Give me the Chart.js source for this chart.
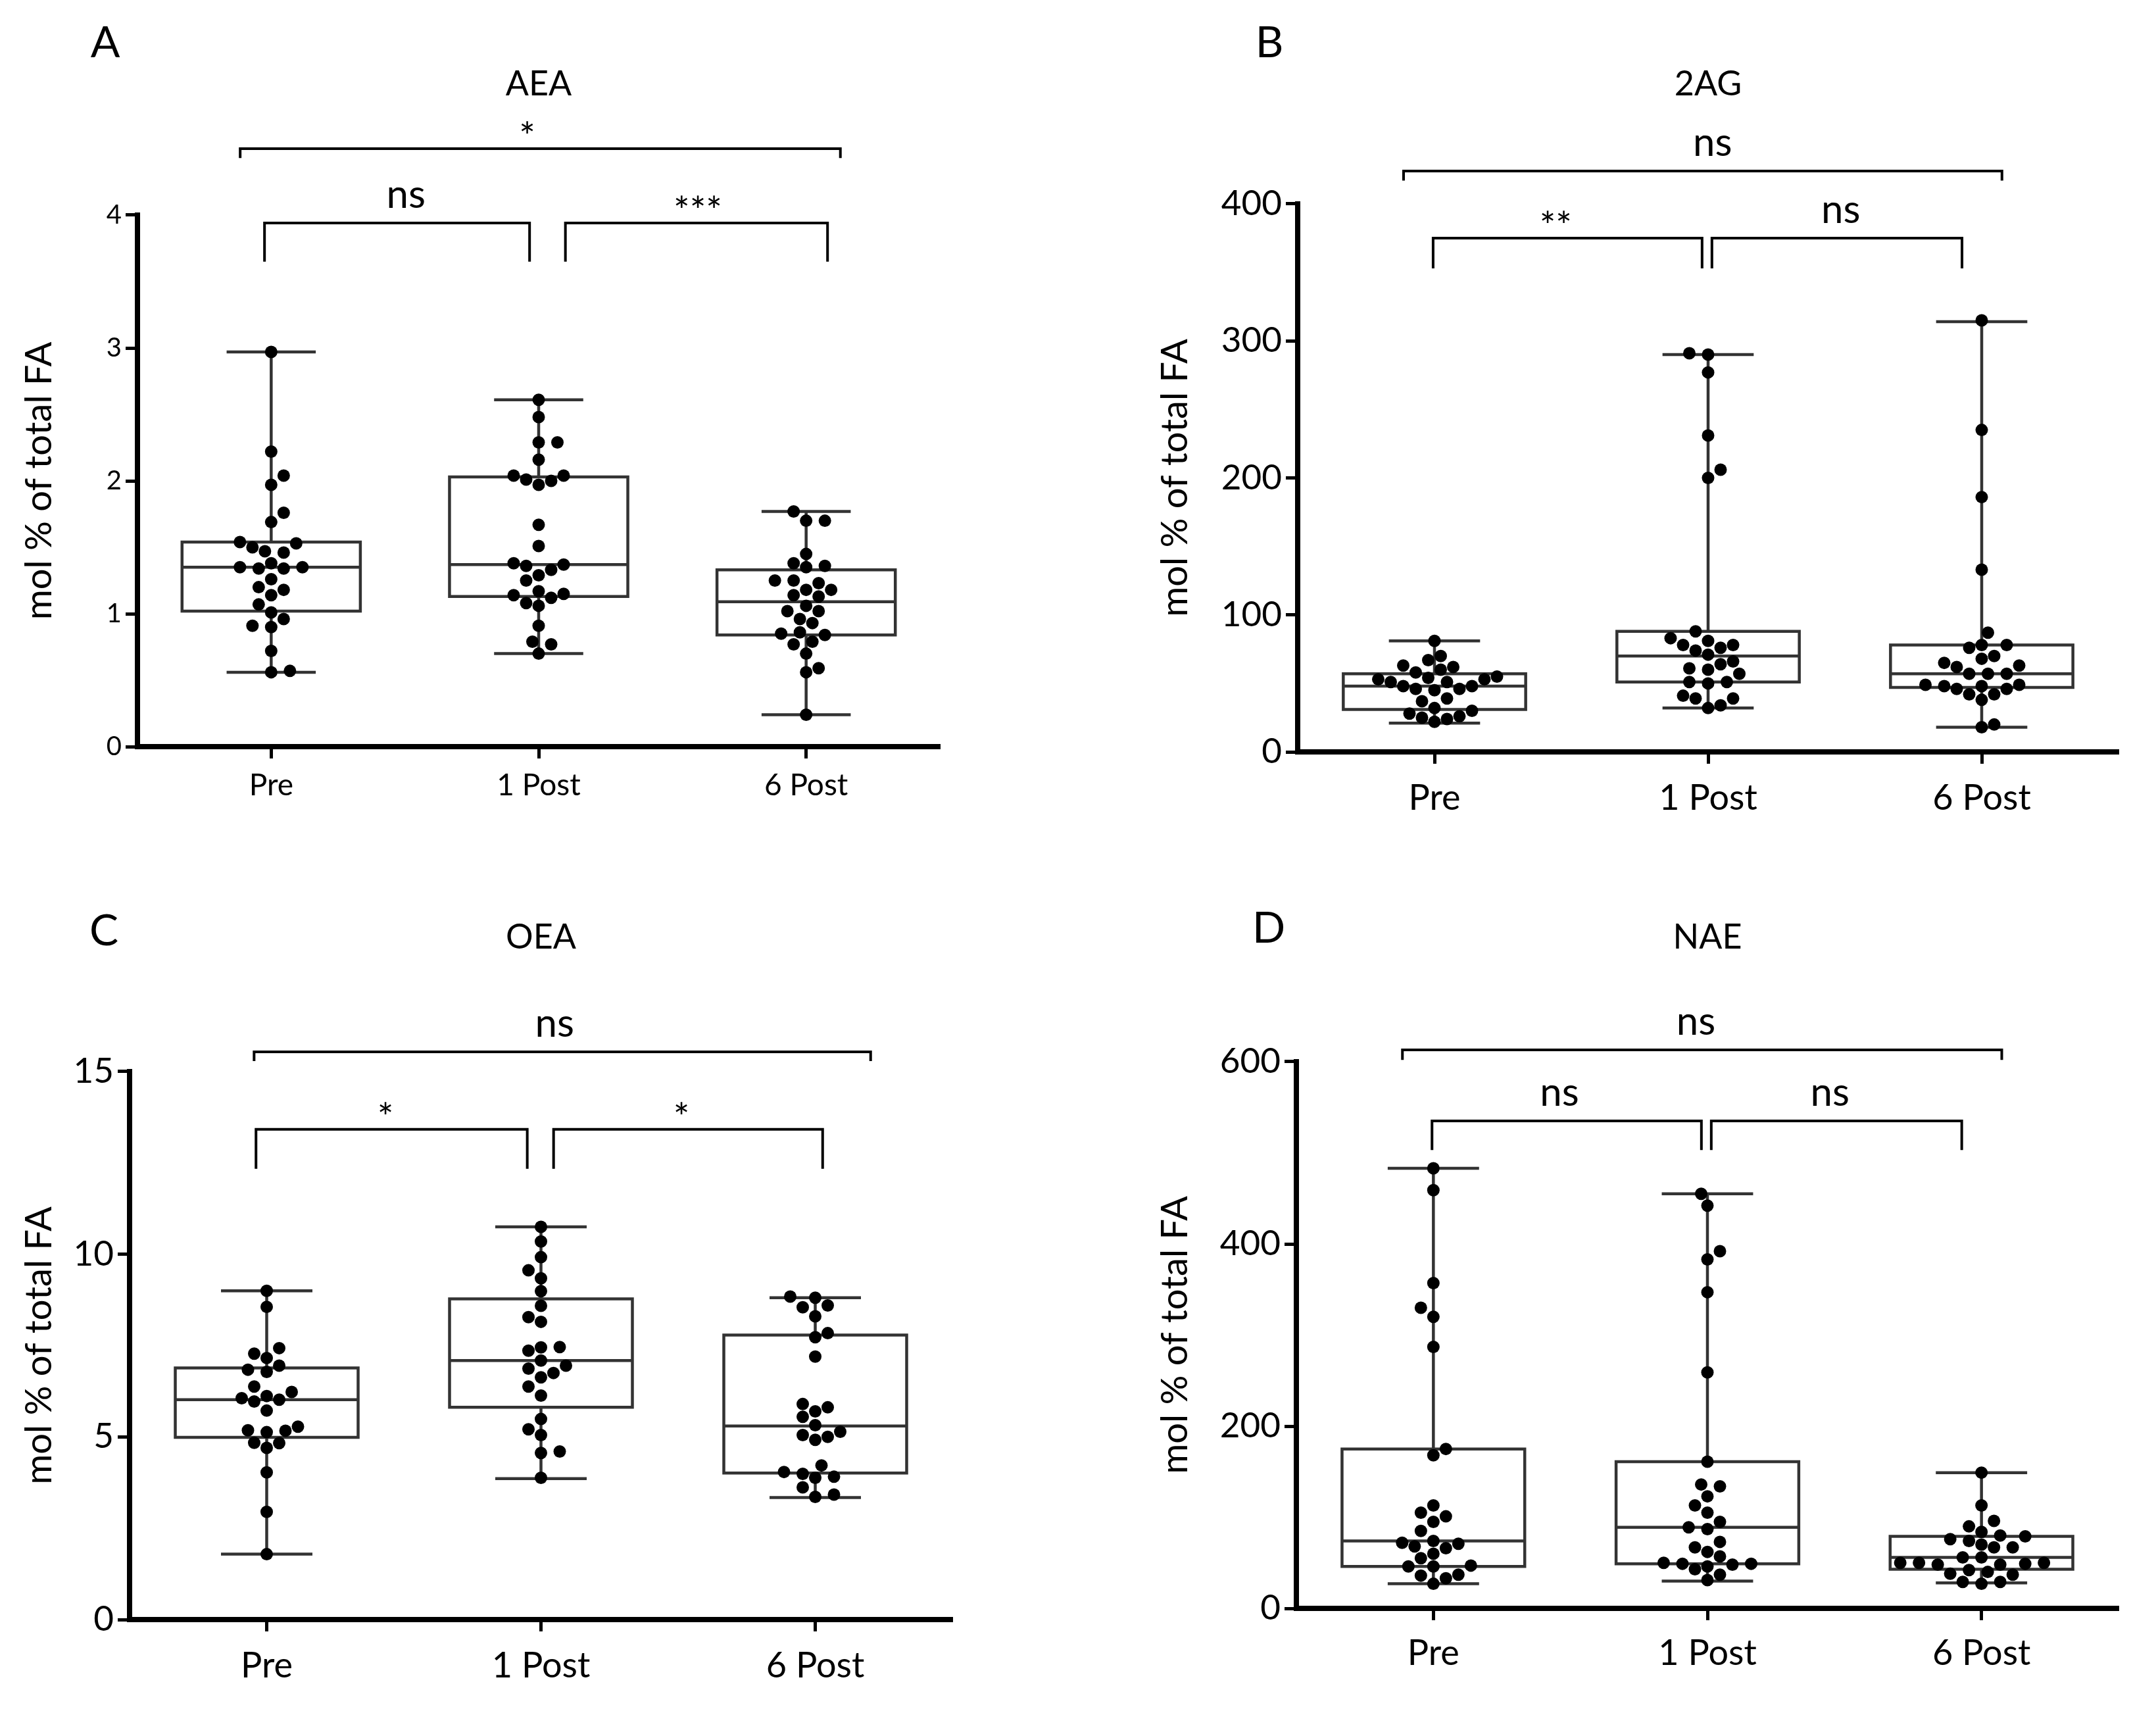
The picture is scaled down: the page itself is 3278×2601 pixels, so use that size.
<!DOCTYPE html>
<html>
<head>
<meta charset="utf-8">
<script src="https://cdn.jsdelivr.net/npm/chart.js@4.4.1/dist/chart.umd.min.js"></script>
<style>
  html, body { margin: 0; padding: 0; background: #fff; }
  body { width: 3278px; height: 2601px; position: relative; overflow: hidden; }
  canvas { position: absolute; }
</style>
</head>
<body>
<canvas id="pA"></canvas>
<canvas id="pB"></canvas>
<canvas id="pC"></canvas>
<canvas id="pD"></canvas>
<script>
// ---------------- DATA ----------------
const categories = ['Pre', '1 Post', '6 Post'];
const yAxisTitle = 'mol % of total FA';

// Panel A - AEA
const aeaPre   = [2.97, 2.22, 2.04, 1.97, 1.76, 1.69, 1.53, 1.54, 1.50, 1.47, 1.46, 1.38, 1.35, 1.34, 1.35, 1.34, 1.26, 1.20, 1.18, 1.14, 1.07, 1.01, 0.96, 0.91, 0.90, 0.72, 0.56, 0.57];
const aeaPost1 = [2.61, 2.48, 2.29, 2.29, 2.16, 2.04, 2.00, 1.97, 2.01, 2.04, 1.67, 1.51, 1.38, 1.36, 1.37, 1.33, 1.29, 1.25, 1.15, 1.12, 1.17, 1.14, 1.08, 1.06, 0.91, 0.79, 0.77, 0.70];
const aeaPost6 = [1.77, 1.70, 1.70, 1.45, 1.36, 1.35, 1.38, 1.25, 1.25, 1.23, 1.18, 1.14, 1.13, 1.18, 1.02, 1.02, 1.06, 0.96, 0.93, 0.85, 0.84, 0.86, 0.79, 0.77, 0.70, 0.59, 0.56, 0.24];
// box stats: [min, q1, median, q3, max]
const aeaBoxPre   = [0.56, 1.02, 1.35, 1.54, 2.97];
const aeaBoxPost1 = [0.70, 1.13, 1.37, 2.03, 2.61];
const aeaBoxPost6 = [0.24, 0.84, 1.09, 1.33, 1.77];
const aeaTicks = [0, 1, 2, 3, 4];

// Panel B - 2AG
const agPre   = [81, 70, 67, 62, 63, 58, 60, 55, 53, 51, 53, 54, 51, 48, 46, 45, 46, 48, 37, 39, 32, 30, 28, 25, 22, 24, 26];
const agPost1 = [291, 290, 277, 231, 206, 200, 88, 83, 81, 78, 78, 76, 74, 71, 66, 64, 61, 60, 57, 51, 51, 50, 41, 39, 39, 34, 32];
const agPost6 = [315, 235, 186, 133, 87, 78, 78, 76, 70, 68, 65, 63, 62, 57, 57, 57, 49, 48, 49, 46, 48, 46, 42, 42, 38, 18, 20];
const agBoxPre   = [21, 31, 48, 57, 81];
const agBoxPost1 = [32, 51, 70, 88, 290];
const agBoxPost6 = [18, 47, 57, 78, 314];
const agTicks = [0, 100, 200, 300, 400];

// Panel C - OEA
const oeaPre   = [9.00, 8.56, 7.43, 7.28, 7.16, 6.95, 6.84, 6.78, 6.38, 6.23, 6.12, 6.06, 5.97, 6.02, 5.72, 5.28, 5.18, 5.13, 5.17, 4.84, 4.83, 4.70, 4.03, 2.95, 1.79];
const oeaPost1 = [10.75, 10.35, 9.92, 9.56, 9.34, 8.99, 8.59, 8.28, 8.15, 7.45, 7.36, 7.46, 7.09, 6.95, 6.87, 6.75, 6.63, 6.38, 6.13, 5.49, 5.21, 5.05, 4.60, 4.56, 3.88];
const oeaPost6 = [8.81, 8.84, 8.55, 8.60, 8.30, 7.73, 7.84, 7.20, 5.90, 5.81, 5.70, 5.55, 5.32, 5.14, 5.05, 4.92, 5.00, 4.22, 4.04, 3.91, 3.88, 3.99, 3.62, 3.36, 3.42];
const oeaBoxPre   = [1.79, 4.99, 6.02, 6.89, 9.00];
const oeaBoxPost1 = [3.86, 5.81, 7.09, 8.78, 10.75];
const oeaBoxPost6 = [3.34, 4.01, 5.30, 7.79, 8.81];
const oeaTicks = [0, 5, 10, 15];

// Panel D - NAE
const naePre   = [483, 459, 357, 330, 320, 287, 175, 168, 113, 105, 101, 95, 85, 74, 72, 71, 68, 66, 60, 55, 46, 46, 47, 36, 33, 37, 27];
const naePost1 = [455, 442, 392, 383, 347, 259, 161, 134, 136, 123, 113, 105, 95, 89, 87, 73, 67, 62, 57, 49, 48, 46, 49, 50, 43, 37, 31];
const naePost6 = [149, 113, 96, 90, 84, 80, 79, 76, 74, 70, 67, 67, 56, 56, 50, 49, 48, 48, 50, 50, 42, 38, 37, 40, 29, 27, 29];
const naeBoxPre   = [27, 46, 74, 175, 483];
const naeBoxPost1 = [30, 49, 89, 161, 455];
const naeBoxPost6 = [28, 43, 56, 79, 149];
const naeTicks = [0, 200, 400, 600];

// significance comparisons: [from x, to x, bar level, leg end level, label, label x]
const aeaSig = [[-0.116, 2.128, 4.50, 4.43, '*', 0.957], [-0.025, 0.966, 3.94, 3.65, 'ns', 0.504], [1.10, 2.08, 3.94, 3.65, '***', 1.595]];
const agSig  = [[-0.113, 2.074, 424, 417, 'ns', 1.016], [-0.005, 0.978, 375, 353, '**', 0.443], [1.014, 1.928, 375, 353, 'ns', 1.485]];
const oeaSig = [[-0.046, 2.202, 15.54, 15.29, 'ns', 1.050], [-0.039, 0.950, 13.42, 12.34, '*', 0.433], [1.046, 2.027, 13.42, 12.34, '*', 1.512]];
const naeSig = [[-0.113, 2.074, 613, 602, 'ns', 0.958], [-0.005, 0.978, 535, 503, 'ns', 0.460], [1.014, 1.928, 535, 503, 'ns', 1.447]];

// ---------------- STYLE / LAYOUT ----------------
const FONT = 'Lato, "Open Sans", sans-serif';
Chart.defaults.font.family = FONT;
Chart.defaults.color = '#000';

const panels = [
  { id: 'pA', letter: 'A', title: 'AEA', groups: [aeaPre, aeaPost1, aeaPost6], boxes: [aeaBoxPre, aeaBoxPost1, aeaBoxPost6], ticks: aeaTicks, sig: aeaSig,
    pos: [0, 0, 1640, 1300], area: [209, 1429, 327, 1135], titleCY: 128, yTitleCX: 60, letterXY: [160, 66], yFont: 40, xFont: 46, xPad: 14 },
  { id: 'pB', letter: 'B', title: '2AG', groups: [agPre, agPost1, agPost6], boxes: [agBoxPre, agBoxPost1, agBoxPost6], ticks: agTicks, sig: agSig,
    pos: [1640, 0, 1638, 1300], area: [333, 1581, 310, 1143], titleCY: 128, yTitleCX: 147, letterXY: [290, 66], yFont: 53, xFont: 54, xPad: 20 },
  { id: 'pC', letter: 'C', title: 'OEA', groups: [oeaPre, oeaPost1, oeaPost6], boxes: [oeaBoxPre, oeaBoxPost1, oeaBoxPost6], ticks: oeaTicks, sig: oeaSig,
    pos: [0, 1300, 1640, 1301], area: [197, 1448, 329, 1162], titleCY: 125, yTitleCX: 60, letterXY: [158, 116], yFont: 53, xFont: 54, xPad: 20 },
  { id: 'pD', letter: 'D', title: 'NAE', groups: [naePre, naePost1, naePost6], boxes: [naeBoxPre, naeBoxPost1, naeBoxPost6], ticks: naeTicks, sig: naeSig,
    pos: [1640, 1300, 1638, 1301], area: [331, 1581, 314, 1145], titleCY: 125, yTitleCX: 147, letterXY: [289, 112], yFont: 53, xFont: 54, xPad: 18 }
];

const DOT_R = 9.5;
const BOX_COLOR = '#333333';
const TITLE_SIZE = 52, YTITLE_SIZE = 56, LETTER_SIZE = 66, NS_SIZE = 60, STAR_SIZE = 58;

// box-and-whisker plugin (drawn through the chart scales)
const boxPlugin = {
  id: 'boxes',
  beforeDatasetsDraw(chart, args, opts) {
    const { ctx, scales: { x, y } } = chart;
    ctx.save();
    ctx.strokeStyle = BOX_COLOR;
    ctx.lineWidth = 4.5;
    opts.boxes.forEach((b, i) => {
      const [mn, q1, md, q3, mx] = b;
      const xl = x.getPixelForValue(i - 1/3), xr = x.getPixelForValue(i + 1/3);
      const cl = x.getPixelForValue(i - 1/6), cr = x.getPixelForValue(i + 1/6);
      const xc = x.getPixelForValue(i);
      const p = v => y.getPixelForValue(v);
      ctx.beginPath();
      ctx.rect(xl, p(q3), xr - xl, p(q1) - p(q3));
      ctx.moveTo(xl, p(md)); ctx.lineTo(xr, p(md));
      ctx.moveTo(xc, p(q3)); ctx.lineTo(xc, p(mx));
      ctx.moveTo(xc, p(q1)); ctx.lineTo(xc, p(mn));
      ctx.moveTo(cl, p(mx)); ctx.lineTo(cr, p(mx));
      ctx.moveTo(cl, p(mn)); ctx.lineTo(cr, p(mn));
      ctx.stroke();
    });
    ctx.restore();
  }
};

// significance brackets + panel letter
const annotPlugin = {
  id: 'annot',
  afterDraw(chart, args, opts) {
    const { ctx, scales: { x, y } } = chart;
    ctx.save();
    ctx.strokeStyle = '#000';
    ctx.fillStyle = '#000';
    ctx.lineWidth = 4;
    opts.sig.forEach(([a, b, lev, leg, label, lx]) => {
      const x1 = x.getPixelForValue(a), x2 = x.getPixelForValue(b);
      const yl = y.getPixelForValue(lev), yb = y.getPixelForValue(leg);
      ctx.beginPath();
      ctx.moveTo(x1, yb); ctx.lineTo(x1, yl); ctx.lineTo(x2, yl); ctx.lineTo(x2, yb);
      ctx.stroke();
      const size = label === 'ns' ? NS_SIZE : STAR_SIZE;
      ctx.font = size + 'px ' + FONT;
      ctx.textAlign = 'center';
      ctx.textBaseline = 'alphabetic';
      const m = ctx.measureText(label);
      const bottom = yl - 23;
      ctx.fillText(label, x.getPixelForValue(lx), bottom - m.actualBoundingBoxDescent);
    });
    ctx.font = LETTER_SIZE + 'px ' + FONT;
    ctx.textAlign = 'center';
    ctx.textBaseline = 'middle';
    ctx.fillText(opts.letter, opts.letterXY[0], opts.letterXY[1]);
    ctx.restore();
  }
};

function swarm(chart, groups) {
  const xs = chart.scales.x, ys = chart.scales.y;
  const unit = xs.getPixelForValue(1) - xs.getPixelForValue(0);
  groups.forEach((vals, gi) => {
    const order = vals.map((v, i) => i).sort((a, b) => vals[a] - vals[b]);
    const placed = [];
    const offs = new Array(vals.length).fill(0);
    let balance = 0;
    for (const i of order) {
      const py = ys.getPixelForValue(vals[i]);
      const free = c => placed.every(p => Math.hypot(p.x - c, p.y - py) >= 2 * DOT_R * 1.02);
      let best = 0;
      for (let k = 0; k < 60; k++) {
        if (k === 0) { if (free(0)) { best = 0; break; } continue; }
        const c = k * DOT_R;
        const order2 = balance > 0 ? [-c, c] : [c, -c];
        const f = order2.find(free);
        if (f !== undefined) { best = f; break; }
      }
      balance += best;
      placed.push({ x: best, y: py });
      offs[i] = best;
    }
    chart.data.datasets[gi].data = vals.map((v, i) => ({ x: gi + offs[i] / unit, y: v }));
  });
  chart.update('none');
}

panels.forEach(P => {
  const [left, top, W, H] = P.pos;
  const [L, R, T, B] = P.area;
  const cv = document.getElementById(P.id);
  cv.width = W; cv.height = H;
  cv.style.left = left + 'px'; cv.style.top = top + 'px';
  cv.style.width = W + 'px'; cv.style.height = H + 'px';

  const titleLH = TITLE_SIZE * 1.2;
  const titlePadTop = P.titleCY - titleLH / 2;
  const titlePadBottom = T - titlePadTop - titleLH;
  const yTitleLH = YTITLE_SIZE * 1.2;
  const padL = P.yTitleCX - yTitleLH / 2;

  const chart = new Chart(cv, {
    type: 'scatter',
    data: {
      datasets: P.groups.map((vals, gi) => ({
        label: categories[gi],
        data: vals.map(v => ({ x: gi, y: v })),
        backgroundColor: '#000',
        borderColor: '#000',
        pointRadius: DOT_R,
        pointHoverRadius: DOT_R,
        borderWidth: 0
      }))
    },
    options: {
      responsive: false,
      devicePixelRatio: 1,
      animation: false,
      events: [],
      layout: { padding: { left: padL, right: W - R, top: 0, bottom: 0 } },
      plugins: {
        legend: { display: false },
        tooltip: { enabled: false },
        title: {
          display: true, text: P.title, fullSize: false, color: '#000',
          font: { size: TITLE_SIZE, weight: 'normal', lineHeight: 1.2 },
          padding: { top: titlePadTop, bottom: titlePadBottom }
        },
        boxes: { boxes: P.boxes },
        annot: { sig: P.sig, letter: P.letter, letterXY: P.letterXY }
      },
      scales: {
        x: {
          type: 'linear', min: -0.5, max: 2.5,
          afterBuildTicks: s => { s.ticks = [0, 1, 2].map(v => ({ value: v })); },
          afterFit: s => { s.height = H - B; },
          ticks: { callback: v => categories[v], color: '#000', font: { size: P.xFont }, padding: P.xPad, maxRotation: 0, autoSkip: false },
          grid: { display: true, drawOnChartArea: false, drawTicks: true, tickLength: 18, tickWidth: 5, tickColor: '#000' },
          border: { display: true, width: 8, color: '#000' }
        },
        y: {
          type: 'linear', min: P.ticks[0], max: P.ticks[P.ticks.length - 1],
          afterBuildTicks: s => { s.ticks = P.ticks.map(v => ({ value: v })); },
          afterFit: s => { s.width = L - padL; },
          ticks: { color: '#000', font: { size: P.yFont }, padding: 6 },
          grid: { display: true, drawOnChartArea: false, drawTicks: true, tickLength: 18, tickWidth: 5, tickColor: '#000' },
          border: { display: true, width: 8, color: '#000' },
          title: { display: true, text: yAxisTitle, color: '#000', font: { size: YTITLE_SIZE, lineHeight: 1.2 }, padding: 0 }
        }
      }
    },
    plugins: [boxPlugin, annotPlugin]
  });
  swarm(chart, P.groups);
});
</script>
</body>
</html>
